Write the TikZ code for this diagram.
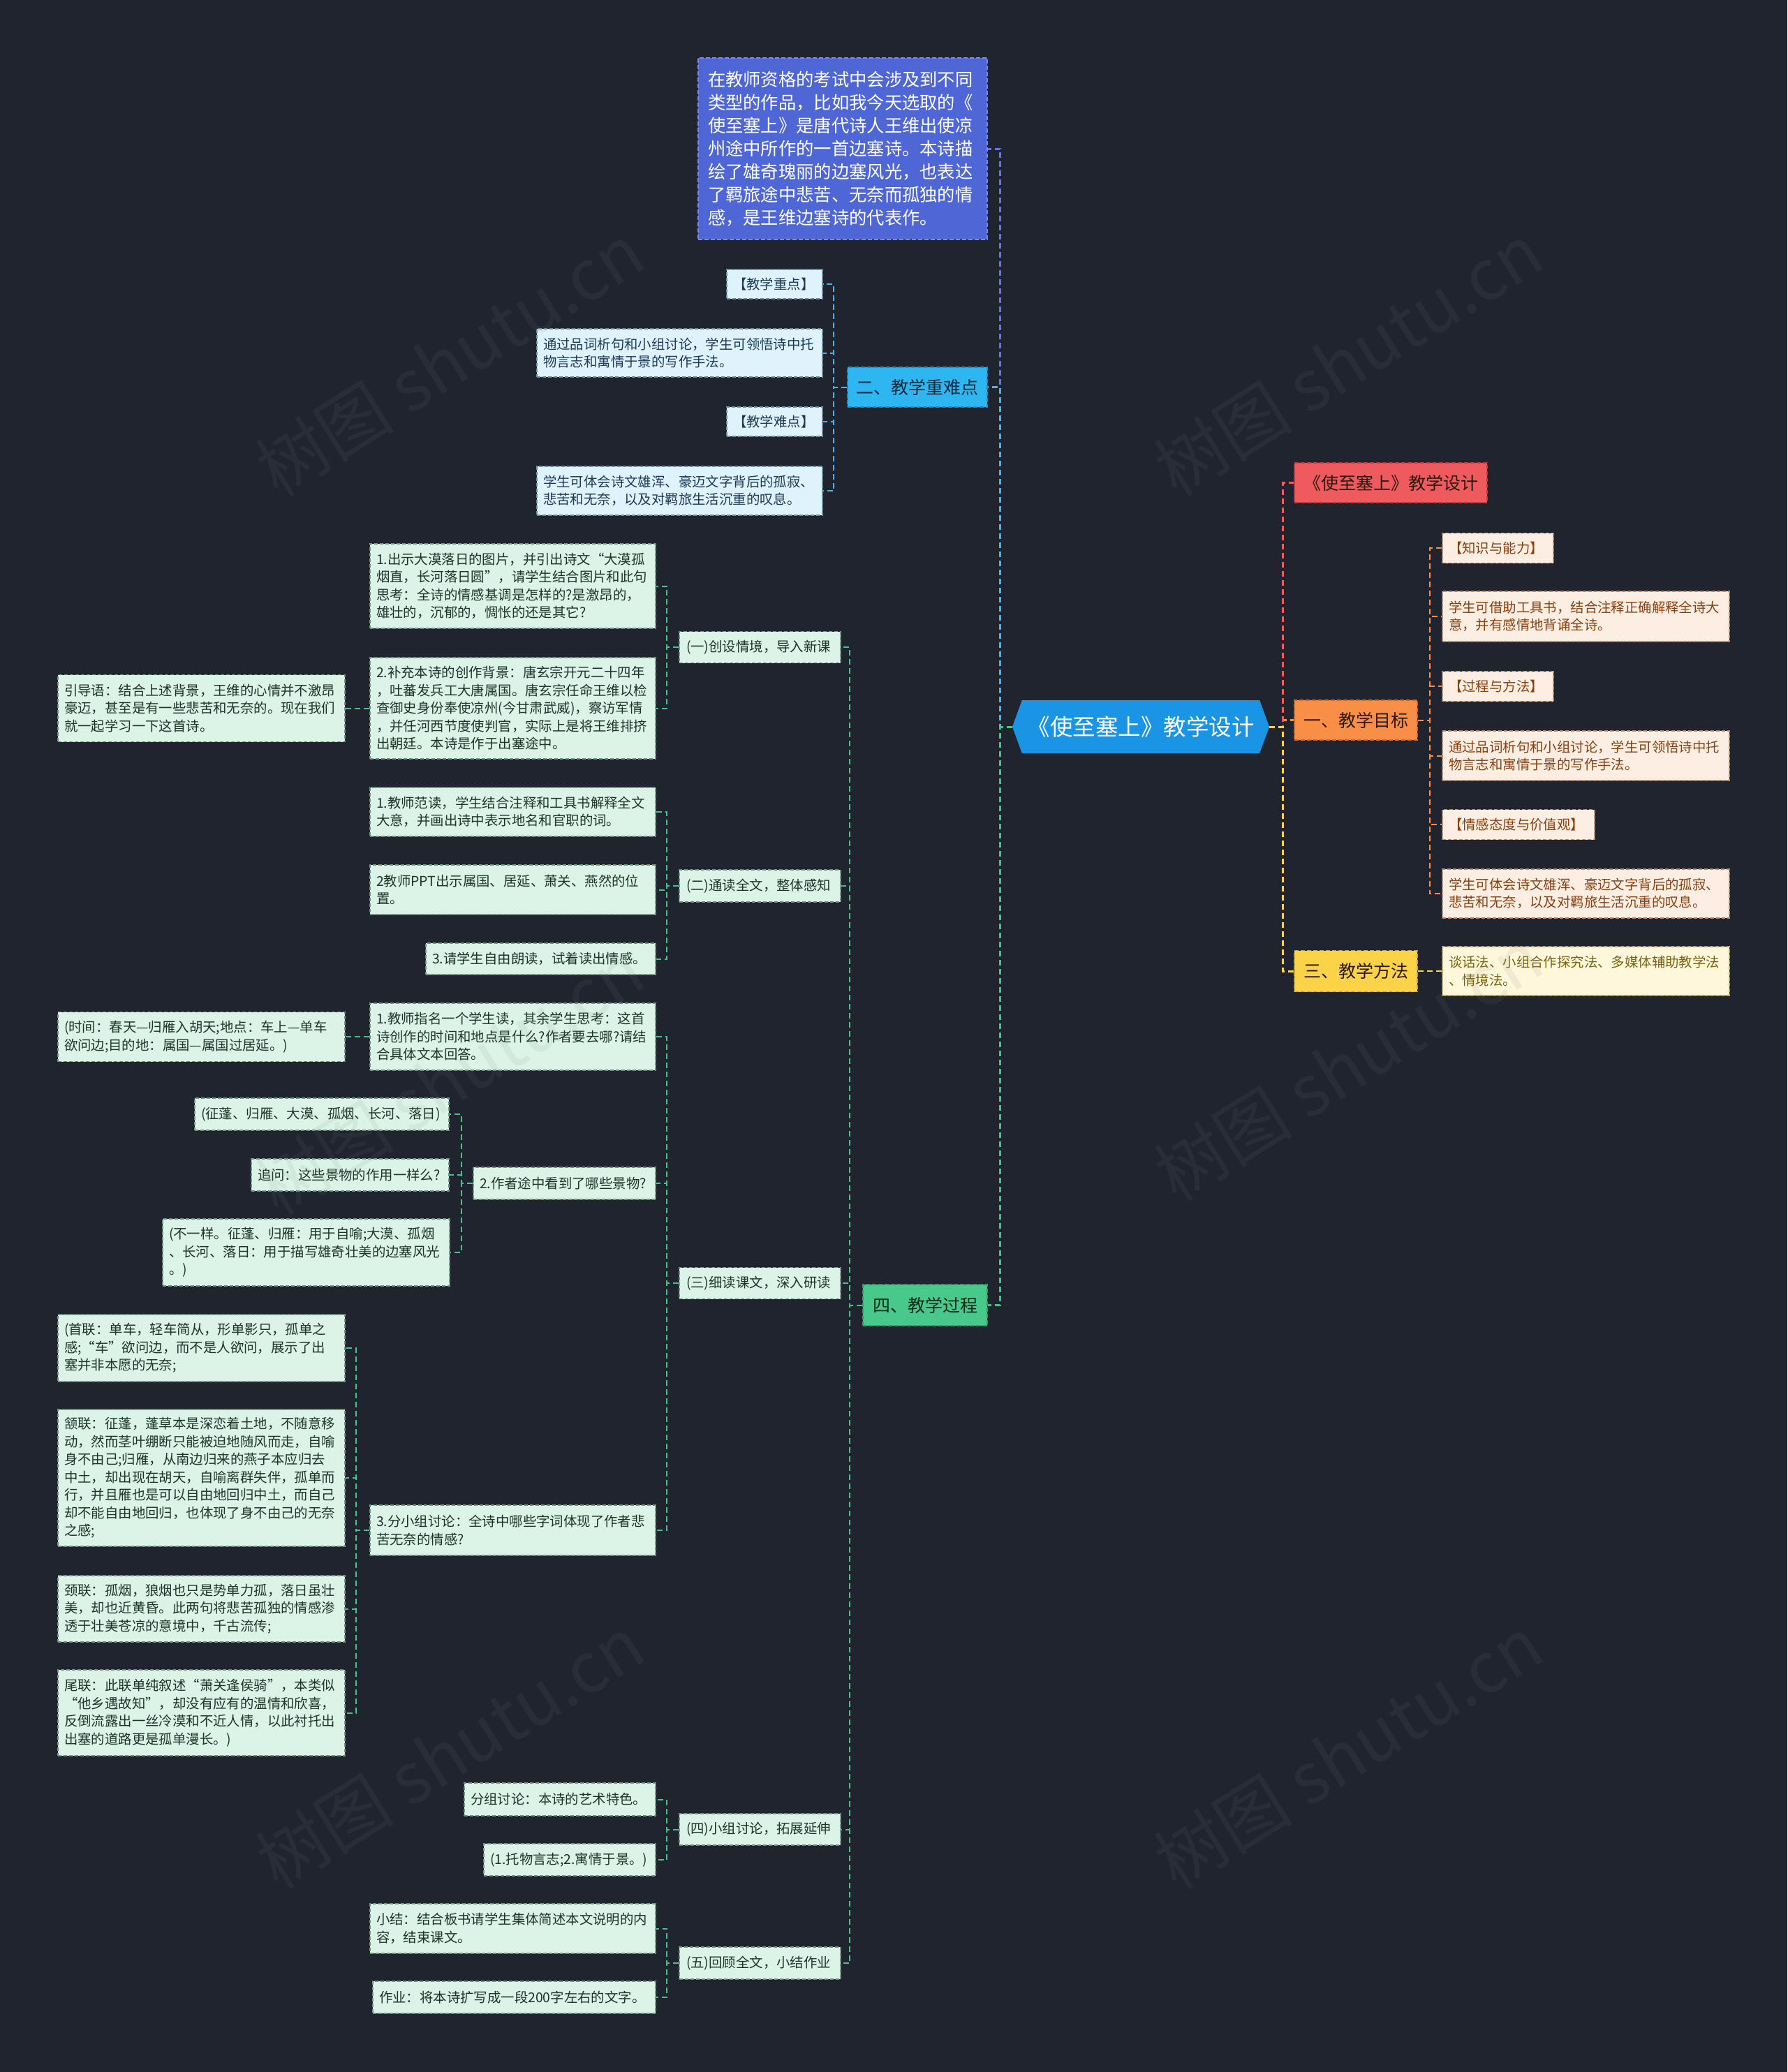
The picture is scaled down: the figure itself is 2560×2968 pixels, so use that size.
\documentclass[tikz,border=0pt]{standalone}
\usepackage{fontspec}
\newfontfamily\zh{Noto Sans CJK SC}
\usetikzlibrary{shapes.symbols}
\definecolor{bg}{HTML}{20242F}
\definecolor{rootc}{HTML}{1A95E6}
\definecolor{bluef}{HTML}{4F67D6}
\definecolor{blued}{HTML}{7A8BE6}
\definecolor{cyanf}{HTML}{2EB6F0}
\definecolor{cyand}{HTML}{1E8FC4}
\definecolor{cyant}{HTML}{0F2A3D}
\definecolor{lbf}{HTML}{DFF3FC}
\definecolor{lbt}{HTML}{1C3A55}
\definecolor{lbd}{HTML}{6C8FA5}
\definecolor{redf}{HTML}{EE5A5E}
\definecolor{redd}{HTML}{C0393D}
\definecolor{orf}{HTML}{F98E47}
\definecolor{ord}{HTML}{D06A25}
\definecolor{yef}{HTML}{FAD349}
\definecolor{yed}{HTML}{D0A820}
\definecolor{darkt}{HTML}{2B1A12}
\definecolor{pef}{HTML}{FDEEE4}
\definecolor{pet}{HTML}{87400F}
\definecolor{ped}{HTML}{B88B70}
\definecolor{lyf}{HTML}{FEF7DB}
\definecolor{lyt}{HTML}{7A6410}
\definecolor{lyd}{HTML}{BBA860}
\definecolor{grf}{HTML}{48C98B}
\definecolor{grd}{HTML}{2E9E68}
\definecolor{grt}{HTML}{10281C}
\definecolor{lgf}{HTML}{DBF4E7}
\definecolor{lgt}{HTML}{1A3628}
\definecolor{lgd}{HTML}{6F9580}
\definecolor{cBlue}{HTML}{6278E0}
\definecolor{cCyan}{HTML}{48B5EA}
\definecolor{cGreen}{HTML}{45C48A}
\definecolor{cRed}{HTML}{EE5A5E}
\definecolor{cOrange}{HTML}{F98E47}
\definecolor{cYellow}{HTML}{FAD349}
\begin{document}
\begin{tikzpicture}[x=1pt,y=-1pt,
  conn/.style={line width=2pt, dash pattern=on 8pt off 5pt},
  conn1/.style={line width=3pt, dash pattern=on 8pt off 5pt},
  base/.style={rectangle, inner sep=0pt, line width=1.3pt, dash pattern=on 5pt off 3pt,
    font=\zh\fontsize{19.4}{25.5}\selectfont, align=left},
  lvl1/.style={rectangle, inner sep=0pt, line width=1.5pt, dash pattern=on 6pt off 3pt,
    font=\zh\fontsize{25}{30}\selectfont, align=center},
  gbox/.style={base, fill=lgf, draw=lgd, text=lgt},
  bbox/.style={base, fill=lbf, draw=lbd, text=lbt},
  pbox/.style={base, fill=pef, draw=ped, text=pet},
  ybox/.style={base, fill=lyf, draw=lyd, text=lyt},
  wm/.style={rotate=32, text=gray, opacity=0.1, font=\zh\fontsize{100}{100}\selectfont}
]
\useasboundingbox (0,0) rectangle (2560,2968);
\fill[bg] (0,0) rectangle (2560,2968);

% ---------- root ----------
\node[signal, signal to=west and east, signal pointer angle=140, fill=rootc,
  minimum width=368pt, minimum height=76pt, inner sep=0pt, text=white,
  font=\zh\fontsize{32.5}{36}\selectfont] (root) at (1634,1041) {《使至塞上》教学设计};

% ---------- top blue box ----------
\node[rectangle, inner sep=0pt, fill=bluef, draw=blued, line width=1.5pt, dash pattern=on 6pt off 3pt,
  text=white, font=\zh\fontsize{25.3}{33}\selectfont, align=left,
  minimum width=414pt, minimum height=260pt, text width=386pt] (intro) at (1207,213)
  {在教师资格的考试中会涉及到不同\\类型的作品，比如我今天选取的《\\使至塞上》是唐代诗人王维出使凉\\州途中所作的一首边塞诗。本诗描\\绘了雄奇瑰丽的边塞风光，也表达\\了羁旅途中悲苦、无奈而孤独的情\\感，是王维边塞诗的代表作。};

% ---------- 二 ----------
\node[lvl1, fill=cyanf, draw=cyand, text=cyant, minimum width=200pt, minimum height=57pt] (er) at (1314,554.5) {二、教学重难点};
\node[bbox, minimum width=137pt, minimum height=42pt, text width=119pt] (b1) at (1109.5,407) {【教学重点】};
\node[bbox, minimum width=409pt, minimum height=69pt, text width=391pt] (b2) at (973.5,505.5) {通过品词析句和小组讨论，学生可领悟诗中托\\物言志和寓情于景的写作手法。};
\node[bbox, minimum width=137pt, minimum height=42pt, text width=119pt] (b3) at (1109.5,604) {【教学难点】};
\node[bbox, minimum width=409pt, minimum height=70pt, text width=391pt] (b4) at (973.5,703) {学生可体会诗文雄浑、豪迈文字背后的孤寂、\\悲苦和无奈，以及对羁旅生活沉重的叹息。};

% ---------- right side ----------
\node[lvl1, fill=redf, draw=redd, text=darkt, minimum width=276pt, minimum height=57pt] (red) at (1992,691.5) {《使至塞上》教学设计};
\node[lvl1, fill=orf, draw=ord, text=darkt, minimum width=176pt, minimum height=57pt] (yi) at (1942,1031.5) {一、教学目标};
\node[lvl1, fill=yef, draw=yed, text=darkt, minimum width=176pt, minimum height=59pt] (san) at (1942,1391) {三、教学方法};
\node[pbox, minimum width=159pt, minimum height=43pt, text width=141pt] (o1) at (2145.5,785) {【知识与能力】};
\node[pbox, minimum width=411pt, minimum height=72pt, text width=393pt] (o2) at (2271.5,883) {学生可借助工具书，结合注释正确解释全诗大\\意，并有感情地背诵全诗。};
\node[pbox, minimum width=159pt, minimum height=43pt, text width=141pt] (o3) at (2145.5,983) {【过程与方法】};
\node[pbox, minimum width=411pt, minimum height=71pt, text width=393pt] (o4) at (2271.5,1082.5) {通过品词析句和小组讨论，学生可领悟诗中托\\物言志和寓情于景的写作手法。};
\node[pbox, minimum width=218pt, minimum height=43pt, text width=200pt] (o5) at (2175,1181) {【情感态度与价值观】};
\node[pbox, minimum width=411pt, minimum height=70pt, text width=393pt] (o6) at (2271.5,1280) {学生可体会诗文雄浑、豪迈文字背后的孤寂、\\悲苦和无奈，以及对羁旅生活沉重的叹息。};
\node[ybox, minimum width=411pt, minimum height=70pt, text width=393pt] (y1) at (2271.5,1391) {谈话法、小组合作探究法、多媒体辅助教学法\\、情境法。};

% ---------- 四 ----------
\node[lvl1, fill=grf, draw=grd, text=grt, minimum width=178pt, minimum height=59pt] (si) at (1325,1869.5) {四、教学过程};
\node[gbox, minimum width=231pt, minimum height=45pt, text width=211pt] (s1) at (1088.5,927) {(一)创设情境，导入新课};
\node[gbox, minimum width=231pt, minimum height=46pt, text width=211pt] (s2) at (1088.5,1269) {(二)通读全文，整体感知};
\node[gbox, minimum width=231pt, minimum height=45pt, text width=211pt] (s3) at (1088.5,1838) {(三)细读课文，深入研读};
\node[gbox, minimum width=231pt, minimum height=45pt, text width=211pt] (s4) at (1088.5,2620.5) {(四)小组讨论，拓展延伸};
\node[gbox, minimum width=231pt, minimum height=46pt, text width=211pt] (s5) at (1088.5,2812) {(五)回顾全文，小结作业};

\node[gbox, minimum width=409pt, minimum height=121pt, text width=391pt] (g11) at (734.5,839.5) {1.出示大漠落日的图片，并引出诗文“大漠孤\\烟直，长河落日圆”，请学生结合图片和此句\\思考：全诗的情感基调是怎样的?是激昂的，\\雄壮的，沉郁的，惆怅的还是其它?};
\node[gbox, minimum width=409pt, minimum height=145pt, text width=391pt] (g12) at (734.5,1014.5) {2.补充本诗的创作背景：唐玄宗开元二十四年\\，吐蕃发兵工大唐属国。唐玄宗任命王维以检\\查御史身份奉使凉州(今甘肃武威)，察访军情\\，并任河西节度使判官，实际上是将王维排挤\\出朝廷。本诗是作于出塞途中。};
\node[gbox, minimum width=411pt, minimum height=96pt, text width=393pt] (g121) at (288.5,1014.5) {引导语：结合上述背景，王维的心情并不激昂\\豪迈，甚至是有一些悲苦和无奈的。现在我们\\就一起学习一下这首诗。};

\node[gbox, minimum width=409pt, minimum height=70pt, text width=391pt] (g21) at (734.5,1163) {1.教师范读，学生结合注释和工具书解释全文\\大意，并画出诗中表示地名和官职的词。};
\node[gbox, minimum width=409pt, minimum height=71pt, text width=391pt] (g22) at (734.5,1274.5) {2教师PPT出示属国、居延、萧关、燕然的位\\置。};
\node[gbox, minimum width=329pt, minimum height=45pt, text width=311pt] (g23) at (774.5,1373.5) {3.请学生自由朗读，试着读出情感。};

\node[gbox, minimum width=409pt, minimum height=96pt, text width=391pt] (g31) at (734.5,1485) {1.教师指名一个学生读，其余学生思考：这首\\诗创作的时间和地点是什么?作者要去哪?请结\\合具体文本回答。};
\node[gbox, minimum width=411pt, minimum height=71pt, text width=393pt] (g311) at (288.5,1485) {(时间：春天—归雁入胡天;地点：车上—单车\\欲问边;目的地：属国—属国过居延。)};
\node[gbox, minimum width=261pt, minimum height=46pt, text width=243pt] (g32) at (808.5,1695) {2.作者途中看到了哪些景物?};
\node[gbox, minimum width=364pt, minimum height=46pt, text width=346pt] (g321) at (461,1596) {(征蓬、归雁、大漠、孤烟、长河、落日)};
\node[gbox, minimum width=283pt, minimum height=46pt, text width=265pt] (g322) at (501.5,1683) {追问：这些景物的作用一样么?};
\node[gbox, minimum width=411pt, minimum height=96pt, text width=393pt] (g323) at (438.5,1794) {(不一样。征蓬、归雁：用于自喻;大漠、孤烟\\、长河、落日：用于描写雄奇壮美的边塞风光\\。)};
\node[gbox, minimum width=409pt, minimum height=72pt, text width=391pt] (g33) at (734.5,2192) {3.分小组讨论：全诗中哪些字词体现了作者悲\\苦无奈的情感?};
\node[gbox, minimum width=411pt, minimum height=96pt, text width=393pt] (g331) at (288.5,1931) {(首联：单车，轻车简从，形单影只，孤单之\\感;“车”欲问边，而不是人欲问，展示了出\\塞并非本愿的无奈;};
\node[gbox, minimum width=411pt, minimum height=196pt, text width=393pt] (g332) at (288.5,2117) {颔联：征蓬，蓬草本是深恋着土地，不随意移\\动，然而茎叶绷断只能被迫地随风而走，自喻\\身不由己;归雁，从南边归来的燕子本应归去\\中土，却出现在胡天，自喻离群失伴，孤单而\\行，并且雁也是可以自由地回归中土，而自己\\却不能自由地回归，也体现了身不由己的无奈\\之感;};
\node[gbox, minimum width=411pt, minimum height=95pt, text width=393pt] (g333) at (288.5,2304.5) {颈联：孤烟，狼烟也只是势单力孤，落日虽壮\\美，却也近黄昏。此两句将悲苦孤独的情感渗\\透于壮美苍凉的意境中，千古流传;};
\node[gbox, minimum width=411pt, minimum height=123pt, text width=393pt] (g334) at (288.5,2453.5) {尾联：此联单纯叙述“萧关逢侯骑”，本类似\\“他乡遇故知”，却没有应有的温情和欣喜，\\反倒流露出一丝冷漠和不近人情，以此衬托出\\出塞的道路更是孤单漫长。)};

\node[gbox, minimum width=274pt, minimum height=47pt, text width=256pt] (g41) at (802,2577.5) {分组讨论：本诗的艺术特色。};
\node[gbox, minimum width=246pt, minimum height=46pt, text width=228pt] (g42) at (816,2664) {(1.托物言志;2.寓情于景。)};
\node[gbox, minimum width=409pt, minimum height=71pt, text width=391pt] (g51) at (734.5,2762.5) {小结：结合板书请学生集体简述本文说明的内\\容，结束课文。};
\node[gbox, minimum width=405pt, minimum height=46pt, text width=387pt] (g52) at (736.5,2861) {作业：将本诗扩写成一段200字左右的文字。};

% ---------- connectors ----------
\draw[conn1, cBlue] (root.west) -- ++(-17,0) |- (intro.east);
\draw[conn1, cCyan] (root.west) -- ++(-17,0) |- (er.east);
\draw[conn1, cGreen] (root.west) -- ++(-17,0) |- (si.east);
\draw[conn1, cOrange] (root.east) -- ++(19,0) |- (yi.west);
\draw[conn1, cRed] (root.east) -- ++(19,0) |- (red.west);
\draw[conn1, cYellow] (root.east) -- ++(19,0) |- (san.west);

\foreach \c in {b1,b2,b3,b4} \draw[conn, cCyan] (er.west) -- ++(-19,0) |- (\c.east);
\foreach \c in {o1,o2,o3,o4,o5,o6} \draw[conn, cOrange] (yi.east) -- ++(17,0) |- (\c.west);
\draw[conn, cYellow] (san.east) -- (y1.west);

\foreach \c in {s1,s2,s3,s4,s5} \draw[conn, cGreen] (si.west) -- ++(-18,0) |- (\c.east);
\foreach \c in {g11,g12} \draw[conn, cGreen] (s1.west) -- ++(-17,0) |- (\c.east);
\draw[conn, cGreen] (g12.west) -- (g121.east);
\foreach \c in {g21,g22,g23} \draw[conn, cGreen] (s2.west) -- ++(-17,0) |- (\c.east);
\foreach \c in {g31,g32,g33} \draw[conn, cGreen] (s3.west) -- ++(-17,0) |- (\c.east);
\draw[conn, cGreen] (g31.west) -- (g311.east);
\foreach \c in {g321,g322,g323} \draw[conn, cGreen] (g32.west) -- ++(-16,0) |- (\c.east);
\foreach \c in {g331,g332,g333,g334} \draw[conn, cGreen] (g33.west) -- ++(-19,0) |- (\c.east);
\foreach \c in {g41,g42} \draw[conn, cGreen] (s4.west) -- ++(-17,0) |- (\c.east);
\foreach \c in {g51,g52} \draw[conn, cGreen] (s5.west) -- ++(-17,0) |- (\c.east);

% ---------- watermarks ----------
\node[wm] (wm1) at (644,515) {树图 shutu.cn};
\node[wm] (wm2) at (1931,515) {树图 shutu.cn};
\node[wm] (wm3) at (644,1545) {树图 shutu.cn};
\node[wm] (wm4) at (1931,1525) {树图 shutu.cn};
\node[wm] (wm5) at (644,2510) {树图 shutu.cn};
\node[wm] (wm6) at (1931,2510) {树图 shutu.cn};
\end{tikzpicture}
\end{document}
